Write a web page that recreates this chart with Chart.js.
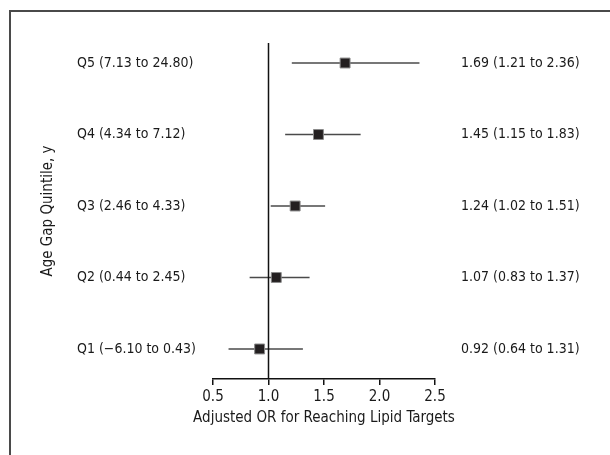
<!DOCTYPE html>
<html>
<head>
<meta charset="utf-8">
<script src="https://cdn.jsdelivr.net/npm/chart.js@4.4.1/dist/chart.umd.min.js"></script>
<style>
html, body { margin: 0; padding: 0; background: #fff; overflow: hidden; }
#wrap { position: relative; width: 610px; height: 455px; }
/* moldura da figura (cortada à direita e embaixo no original) */
#frame { position: absolute; left: 9px; top: 10px; width: 700px; height: 600px; border-left: 2px solid #4a4a4a; border-top: 2px solid #4a4a4a; }
#grafico { position: absolute; left: 0; top: 0; }
</style>
</head>
<body>
<div id="wrap">
    <div id="frame"></div>
    <canvas id="grafico" width="610" height="455"></canvas>
</div>
<script>
// --- Dados (de baixo para cima: Q1 ... Q5) ---
const quintis = ['Q1 (\u22126.10 to 0.43)', 'Q2 (0.44 to 2.45)', 'Q3 (2.46 to 4.33)', 'Q4 (4.34 to 7.12)', 'Q5 (7.13 to 24.80)'];
const razaoChances = [0.92, 1.07, 1.24, 1.45, 1.69];
const icInferior = [0.64, 0.83, 1.02, 1.15, 1.21];
const icSuperior = [1.31, 1.37, 1.51, 1.83, 2.36];
const ticksX = [0.5, 1.0, 1.5, 2.0, 2.5];
const linhaReferencia = 1.0;
const tituloX = 'Adjusted OR for Reaching Lipid Targets';

const Y_MIN = 0.58, Y_MAX = 5.28;
const posicoes = quintis.map((q, i) => i + 1);
const rotulosIC = razaoChances.map((v, i) =>
    `${v.toFixed(2)} (${icInferior[i].toFixed(2)} to ${icSuperior[i].toFixed(2)})`);

const FONTE = "'Liberation Sans Narrow', 'Arial Narrow', 'DejaVu Sans Condensed', sans-serif";
const fonte14 = { family: FONTE, size: 14 };
Chart.defaults.font.family = FONTE;
Chart.defaults.font.size = 14;
Chart.defaults.color = '#1a1a1a';

// Desenha as barras de intervalo de confiança usando as escalas do gráfico
const barrasIC = {
    id: 'barrasIC',
    beforeDatasetsDraw(chart) {
        const { ctx, scales: { x, y } } = chart;
        ctx.save();
        ctx.strokeStyle = '#4a4a4a';
        ctx.lineWidth = 1.5;
        posicoes.forEach((p, i) => {
            const py = y.getPixelForValue(p);
            ctx.beginPath();
            ctx.moveTo(x.getPixelForValue(icInferior[i]), py);
            ctx.lineTo(x.getPixelForValue(icSuperior[i]), py);
            ctx.stroke();
        });
        ctx.restore();
    }
};

// Título do eixo X desenhado à mão: o título da escala seria comprimido à largura do eixo
const tituloEixoX = {
    id: 'tituloEixoX',
    afterDraw(chart) {
        const { ctx, scales: { x } } = chart;
        ctx.save();
        ctx.font = `15px ${FONTE}`;
        ctx.fillStyle = '#1a1a1a';
        ctx.textAlign = 'center';
        ctx.textBaseline = 'middle';
        ctx.fillText(tituloX, (x.left + x.right) / 2, x.bottom - 37);
        ctx.restore();
    }
};

const fixarTicks = axis => { axis.ticks = posicoes.map(v => ({ value: v })); };

const ctx = document.getElementById('grafico').getContext('2d');
new Chart(ctx, {
    type: 'scatter',
    data: {
        datasets: [
            {
                label: 'Referência',
                type: 'line',
                data: [{ x: linhaReferencia, y: Y_MIN }, { x: linhaReferencia, y: Y_MAX }],
                borderColor: '#111',
                borderWidth: 1.5,
                pointRadius: 0
            },
            {
                label: 'OR ajustado',
                data: razaoChances.map((v, i) => ({ x: v, y: posicoes[i] })),
                pointStyle: 'rect',
                pointRadius: 7,
                pointHoverRadius: 7,
                backgroundColor: '#231f20',
                borderColor: '#8a8a8a',
                borderWidth: 1
            }
        ]
    },
    options: {
        responsive: false,
        animation: false,
        devicePixelRatio: 1,
        events: [],
        layout: { padding: { top: 43, left: 0, right: 0, bottom: 0 } },
        plugins: { legend: { display: false }, tooltip: { enabled: false } },
        scales: {
            x: {
                type: 'linear',
                position: 'bottom',
                min: 0.5,
                max: 2.5,
                afterBuildTicks: axis => { axis.ticks = ticksX.map(v => ({ value: v })); },
                ticks: { callback: v => v.toFixed(1), padding: 3, maxRotation: 0, font: { family: FONTE, size: 15 } },
                grid: { drawOnChartArea: false, drawTicks: true, tickLength: 6, color: '#111', lineWidth: 1.5 },
                border: { color: '#111', width: 1.5 },
                title: { display: false },
                afterFit: s => { s.height = 76; }
            },
            y: {
                type: 'linear',
                position: 'left',
                weight: 0,
                min: Y_MIN,
                max: Y_MAX,
                afterBuildTicks: fixarTicks,
                ticks: { callback: v => quintis[v - 1], crossAlign: 'far', padding: 0, font: fonte14 },
                grid: { display: false },
                border: { display: false },
                afterFit: s => { s.width = 136; }
            },
            yTitulo: {
                type: 'linear',
                position: 'left',
                weight: 1,
                min: Y_MIN,
                max: Y_MAX,
                ticks: { display: false },
                grid: { display: false },
                border: { display: false },
                title: { display: true, text: 'Age Gap Quintile, y', font: { family: FONTE, size: 15 }, padding: { top: 39, bottom: 0 } },
                afterFit: s => { s.width = 77; }
            },
            yIC: {
                type: 'linear',
                position: 'right',
                min: Y_MIN,
                max: Y_MAX,
                afterBuildTicks: fixarTicks,
                ticks: { callback: v => rotulosIC[v - 1], crossAlign: 'near', padding: 18, font: fonte14 },
                grid: { display: false },
                border: { display: false },
                afterFit: s => { s.width = 175; }
            }
        }
    },
    plugins: [barrasIC, tituloEixoX]
});
</script>
</body>
</html>
